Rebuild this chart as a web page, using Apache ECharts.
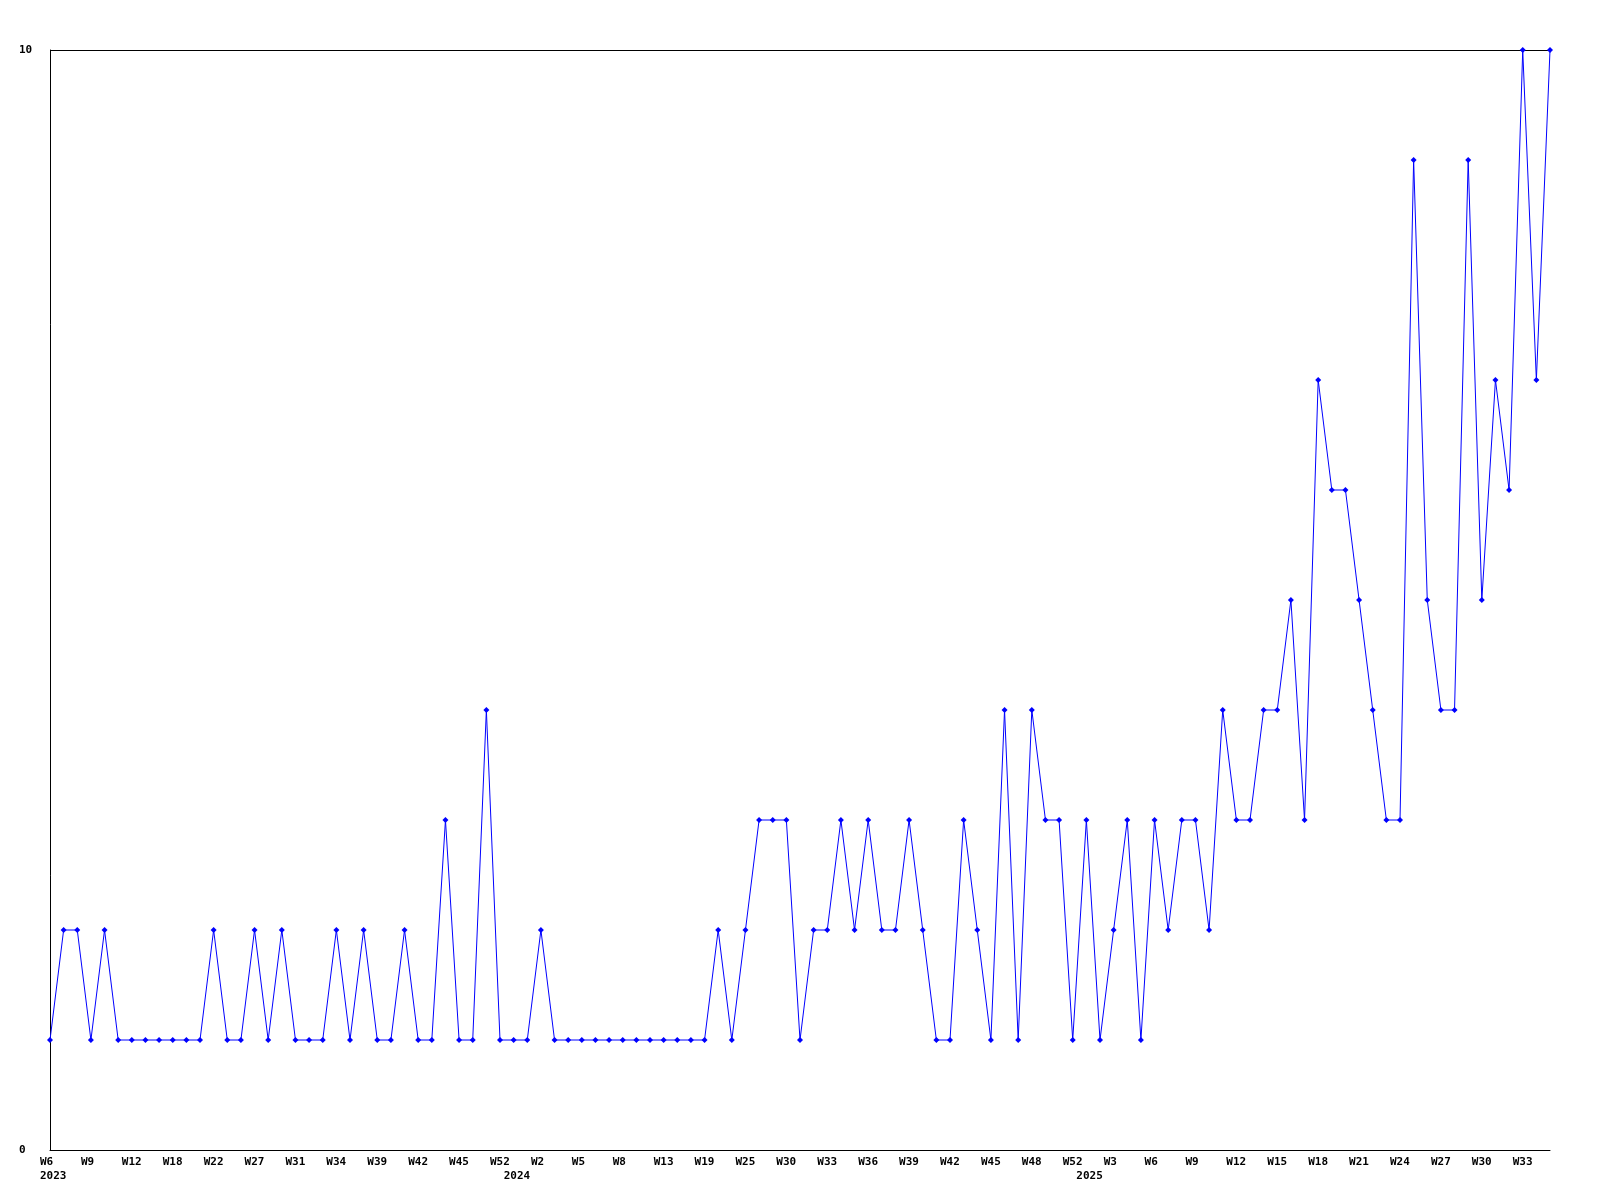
<!DOCTYPE html>
<html>
<head>
<meta charset="utf-8">
<script src="https://cdn.jsdelivr.net/npm/echarts@6/dist/echarts.min.js"></script>
<style>
  html, body { margin: 0; padding: 0; background: #fff; }
  #chart { width: 1600px; height: 1200px; }
</style>
</head>
<body>
<div id="chart"></div>
<script>
// Weeks (year-week) that have data, in order
const categories = [
  '2023-W6','2023-W7','2023-W8','2023-W9','2023-W10','2023-W11','2023-W12','2023-W14','2023-W16','2023-W18',
  '2023-W20','2023-W21','2023-W22','2023-W24','2023-W25','2023-W27','2023-W28','2023-W30','2023-W31','2023-W32',
  '2023-W33','2023-W34','2023-W36','2023-W37','2023-W39','2023-W40','2023-W41','2023-W42','2023-W43','2023-W44',
  '2023-W45','2023-W47','2023-W49','2023-W52',
  '2024-W0','2024-W1','2024-W2','2024-W3','2024-W4','2024-W5','2024-W6','2024-W7','2024-W8','2024-W10',
  '2024-W11','2024-W13','2024-W15','2024-W17','2024-W19','2024-W21','2024-W23','2024-W25','2024-W27','2024-W28',
  '2024-W30','2024-W31','2024-W32','2024-W33','2024-W34','2024-W35','2024-W36','2024-W37','2024-W38','2024-W39',
  '2024-W40','2024-W41','2024-W42','2024-W43','2024-W44','2024-W45','2024-W46','2024-W47','2024-W48','2024-W49',
  '2024-W51','2024-W52',
  '2025-W0','2025-W2','2025-W3','2025-W4','2025-W5','2025-W6','2025-W7','2025-W8','2025-W9','2025-W10',
  '2025-W11','2025-W12','2025-W13','2025-W14','2025-W15','2025-W16','2025-W17','2025-W18','2025-W19','2025-W20',
  '2025-W21','2025-W22','2025-W23','2025-W24','2025-W25','2025-W26','2025-W27','2025-W28','2025-W29','2025-W30',
  '2025-W31','2025-W32','2025-W33','2025-W34','2025-W35'
];

// Weekly counts
const counts = [
  1,2,2,1,2,1,1,1,1,1,
  1,1,2,1,1,2,1,2,1,1,
  1,2,1,2,1,1,2,1,1,3,
  1,1,4,1,1,1,2,1,1,1,
  1,1,1,1,1,1,1,1,1,2,
  1,2,3,3,3,1,2,2,3,2,
  3,2,2,3,2,1,1,3,2,1,
  4,1,4,3,3,1,3,1,2,3,
  1,3,2,3,3,2,4,3,3,4,
  4,5,3,7,6,6,5,4,3,3,
  9,5,4,4,9,5,7,6,10,7,
  10
];

const yMin = 0;
const yMax = 10;

const FONT = 'DejaVu Sans Mono';
const yearOf = (c) => c.split('-')[0];
const weekOf = (c) => c.split('-')[1];

const chart = echarts.init(document.getElementById('chart'), null, { renderer: 'canvas' });

const labelBase = {
  color: '#000',
  fontFamily: FONT,
  fontWeight: 'bold',
  fontSize: 11
};

chart.setOption({
  animation: false,
  backgroundColor: '#ffffff',
  grid: { left: 50, right: 50, top: 50, bottom: 50, containLabel: false },
  xAxis: [
    {
      type: 'category',
      data: categories,
      boundaryGap: false,
      position: 'bottom',
      axisLine: { show: true, onZero: false, lineStyle: { color: '#000', width: 1 } },
      axisTick: { show: false },
      splitLine: { show: false },
      axisLabel: Object.assign({}, labelBase, {
        interval: 2,
        margin: 7,
        formatter: (v) => '{w|' + weekOf(v) + '}',
        rich: { w: Object.assign({}, labelBase, { width: 20, align: 'left' }) }
      })
    },
    {
      type: 'category',
      data: categories,
      boundaryGap: false,
      position: 'bottom',
      axisLine: { show: false, onZero: false },
      axisTick: { show: false },
      splitLine: { show: false },
      axisLabel: Object.assign({}, labelBase, {
        margin: 21,
        interval: (i) => i === 0 || yearOf(categories[i]) !== yearOf(categories[i - 1]),
        formatter: (v) => '{y|' + yearOf(v) + '}',
        rich: { y: Object.assign({}, labelBase, { width: 20, align: 'left' }) }
      })
    }
  ],
  yAxis: {
    type: 'value',
    min: yMin,
    max: yMax,
    interval: 10,
    axisLine: { show: true, lineStyle: { color: '#000', width: 1 } },
    axisTick: { show: false },
    splitLine: { show: true, lineStyle: { color: '#000', width: 1 } },
    axisLabel: Object.assign({}, labelBase, { align: 'left', margin: 31 })
  },
  series: [
    {
      type: 'line',
      data: counts,
      xAxisIndex: 0,
      yAxisIndex: 0,
      symbol: 'diamond',
      symbolSize: 6,
      showAllSymbol: true,
      lineStyle: { color: '#0000ff', width: 1 },
      itemStyle: { color: '#0000ff' },
      emphasis: { disabled: true }
    }
  ]
});
</script>
</body>
</html>
